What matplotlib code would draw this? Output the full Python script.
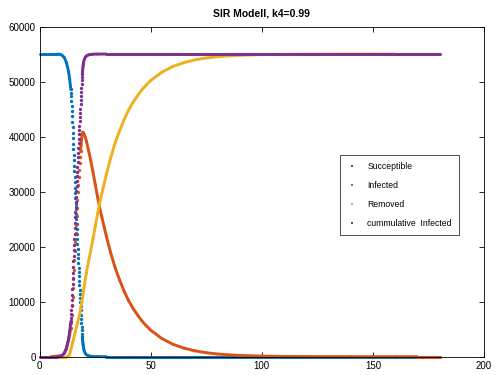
import matplotlib
matplotlib.use("Agg")
import matplotlib.pyplot as plt
import numpy as np
from matplotlib.collections import LineCollection
from matplotlib.lines import Line2D

plt.rcParams['font.family'] = ['Liberation Sans', 'DejaVu Sans']

# values
t_S = [0, 5, 8, 9, 10, 11, 12, 13, 13.5, 14.0,
       14.1, 14.2, 14.3, 14.4, 14.5, 14.6, 14.7, 14.8, 14.9, 15.0,
       15.1, 15.2, 15.3, 15.4, 15.5, 15.6, 15.7, 15.8, 15.9, 16.0,
       16.1, 16.2, 16.3, 16.4, 16.5, 16.6, 16.7, 16.8, 16.9, 17.0,
       17.1, 17.2, 17.3, 17.4, 17.5, 17.6, 17.7, 17.8, 17.9, 18.0,
       18.1, 18.2, 18.3, 18.4, 18.5, 18.6, 18.7, 18.8, 18.9, 19.0,
       19.1, 19.2, 19.3, 19.4, 19.5,
       19.6, 19.8, 20.0, 20.5, 21, 22, 23, 24, 26, 30, 40, 60, 90, 120, 150, 180]
S = [55000, 55000, 55000, 54950, 54800, 54400, 53500, 51800, 50400, 48600,
     48000, 47300, 46500, 45600, 44700, 43700, 42700, 41700, 40700, 39700,
     38700, 37700, 36700, 35700, 34700, 33700, 32700, 31700, 30700, 29700,
     28750, 27800, 26850, 25900, 24950, 24050, 23150, 22250, 21350, 20450,
     19600, 18750, 17900, 17050, 16200, 15400, 14600, 13800, 13000, 12200,
     11400, 10650, 9900, 9150, 8400, 7650, 6900, 6150, 5450, 4800,
     4200, 3650, 3150, 2700, 2300,
     2000, 1500, 1100, 600, 350, 150, 70, 30, 10, 0, 0, 0, 0, 0, 0, 0]
C = [0, 0, 0, 50, 200, 600, 1500, 3200, 4600, 6400,
     7000, 7700, 8500, 9400, 10300, 11300, 12300, 13300, 14300, 15300,
     16300, 17300, 18300, 19300, 20300, 21300, 22300, 23300, 24300, 25300,
     26250, 27200, 28150, 29100, 30050, 30950, 31850, 32750, 33650, 34550,
     35400, 36250, 37100, 37950, 38800, 39600, 40400, 41200, 42000, 42800,
     43600, 44350, 45100, 45850, 46600, 47350, 48100, 48850, 49550, 50200,
     50800, 51350, 51850, 52300, 52700,
     53000, 53500, 53900, 54400, 54650, 54850, 54930, 54970, 54990,
     55000, 55000, 55000, 55000, 55000, 55000, 55000]

t_I = [0, 5, 10, 11, 12, 13, 13.5,
       14.0, 14.2, 14.4, 14.6, 14.8, 15.0, 15.2, 15.4, 15.6, 15.8, 16.0, 16.2, 16.4,
       16.6, 16.8, 17.0, 17.2, 17.4, 17.6, 17.8, 18.0, 18.2, 18.4, 18.6, 18.8, 19.0,
       19.2, 19.4, 19.6, 19.8, 20.0, 20.5,
       21, 22, 23, 24, 25, 26, 27, 28, 29, 30,
       32, 34, 36, 38, 40, 42, 44, 46, 48, 50,
       55, 60, 65, 70, 75, 80, 85, 90, 95, 100,
       110, 120, 130, 140, 150, 160, 170, 180]
I = [0, 0, 200, 600, 1450, 3100, 4100,
     5200, 6200, 7550, 9150, 10800, 12500, 14150, 15800, 17500, 19150, 20800, 22400, 23950,
     25500, 26950, 28450, 29850, 31250, 32600, 33900, 35200, 36300, 37350, 38350, 39300, 40100,
     40600, 40800, 40750, 40600, 40400, 39900,
     39200, 37500, 35600, 33500, 31300, 29100, 27100, 25300, 23600, 21900,
     18800, 16100, 13900, 11900, 10200, 8800, 7600, 6500, 5600, 4800,
     3300, 2250, 1550, 1050, 720, 490, 340, 230, 160, 110,
     50, 25, 12, 6, 3, 1, 0, 0]

t_R = [0, 5, 10, 12, 12.5, 13, 13.5, 14, 15, 16, 17, 18, 19, 20,
       21, 22, 23, 24, 25, 26, 27, 28, 29, 30,
       32, 34, 36, 38, 40, 42, 44, 46, 48, 50,
       55, 60, 65, 70, 75, 80, 85, 90, 95, 100,
       110, 120, 130, 140, 150, 160, 170, 180]
R = [0, 0, 0, 0, 20, 100, 500, 1200, 2800, 4500, 6100, 7700, 10000, 12700,
     15200, 17350, 19330, 21470, 23680, 25890, 27900, 29700, 31400, 33100,
     36200, 38900, 41100, 43100, 44800, 46200, 47400, 48500, 49400, 50200,
     51700, 52750, 53450, 53950, 54280, 54510, 54660, 54770, 54840, 54890,
     54950, 54975, 54988, 54994, 54997, 55000, 55000, 55000]

labels = ['Succeptible', 'Infected', 'Removed', 'cummulative  Infected']
colors = ['#0072BD', '#D95319', '#EDB120', '#7E2F8E']

fig = plt.figure(figsize=(5, 3.75), dpi=100)
ax = fig.add_axes([0.0794, 0.0488, 0.8886, 0.8805])


def draw(t, y, color):
    t = np.asarray(t, float)
    y = np.asarray(y, float)
    slope = np.abs(np.diff(y) / np.diff(t))
    joined = slope < 5000
    # slow parts look like a solid line, steep parts show separate dots
    segs = [[(t[i], y[i]), (t[i + 1], y[i + 1])]
            for i in range(len(t) - 1) if joined[i]]
    lc = LineCollection(segs, colors=color, linewidths=2.1, capstyle='round')
    lc.set_clip_on(False)
    ax.add_collection(lc)
    inner = np.concatenate([[False], joined[:-1] & joined[1:], [False]])
    ends = np.concatenate([[True], joined]) & np.concatenate([joined, [True]])
    dots = ~inner & ~ends | ~np.concatenate([[True], joined]) | ~np.concatenate([joined, [True]])
    ax.plot(t[dots], y[dots], 'o', color=color, ms=2.4, mew=0, clip_on=False)


draw(t_S, S, colors[0])
draw(t_I, I, colors[1])
draw(t_R, R, colors[2])
draw(t_S, C, colors[3])

ax.set_xlim(0, 200)
ax.set_ylim(0, 60000)
ax.set_xticks([0, 50, 100, 150, 200])
ax.set_yticks(np.arange(0, 60001, 10000))
ax.tick_params(direction='in', length=3.5, width=0.6, labelsize=7,
               top=True, right=True, pad=3)
for sp in ax.spines.values():
    sp.set_linewidth(0.6)

ax.set_title('SIR Modell, k4=0.99', fontsize=7.5, fontweight='bold', pad=7)

handles = [Line2D([], [], ls='none', marker='s', ms=1.8, mew=0, color=c) for c in colors]
leg = ax.legend(handles, labels, loc='upper left', bbox_to_anchor=(0.676, 0.611),
                borderaxespad=0, fontsize=6.2, frameon=True, fancybox=False,
                handlelength=1.0, handletextpad=1.3, labelspacing=1.15,
                borderpad=0.85)
leg.get_frame().set_edgecolor('black')
leg.get_frame().set_linewidth(0.6)

fig.savefig('out.png', dpi=100)
